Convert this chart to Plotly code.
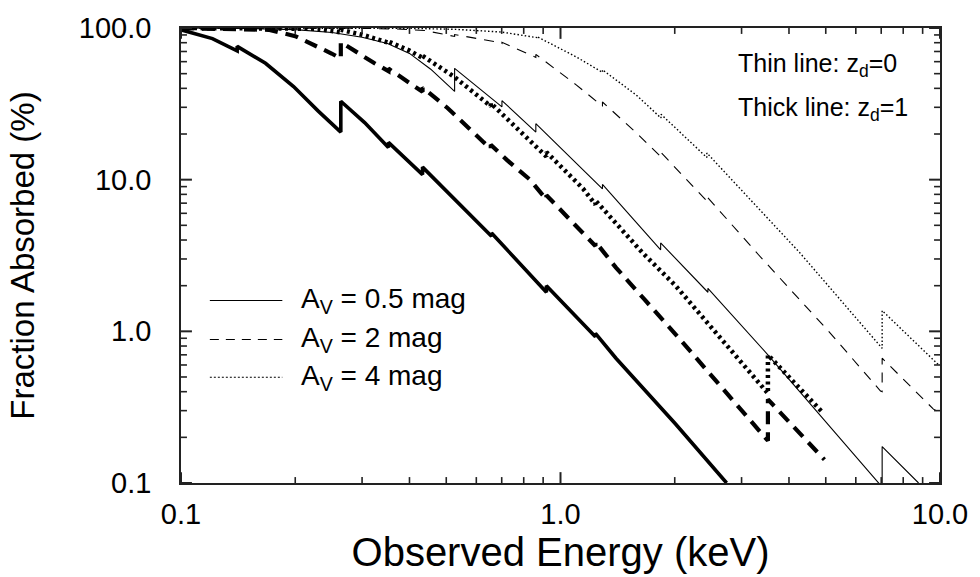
import plotly.graph_objects as go

# ---------------- data ----------------
# Observed energy (keV) / fraction absorbed (%)
# z_d = 0 (thin lines)
x_z0_av05 = [0.1, 0.15, 0.2, 0.25, 0.3, 0.35, 0.40, 0.455, 0.526, 0.526, 0.701, 0.701,
             0.861, 0.861, 1.29, 1.29, 1.836, 1.836, 2.446, 2.446, 3.52, 6.9, 7.04, 7.04, 8.78]
y_z0_av05 = [99.9, 99.3, 97.5, 93.5, 87, 79, 68, 53.5, 38.2, 54.2, 30.2, 33.2,
             20.6, 23.4, 8.7, 9.3, 3.45, 3.83, 1.81, 1.92, 0.70, 0.1, 0.094, 0.174, 0.1]

x_z0_av2 = [0.1, 0.2, 0.3, 0.38, 0.438, 0.526, 0.526, 0.68, 0.701, 0.701, 0.861, 0.861,
            1.10, 1.29, 1.29, 1.58, 1.836, 1.836, 2.446, 2.446, 3.32, 5.09, 6.97, 7.04, 7.04,
            9.61, 10.0]
y_z0_av2 = [100, 99.9, 99.5, 98.3, 96.3, 88, 90.5, 80.8, 79, 80.5, 64, 67,
            42.2, 30.5, 32.5, 20.5, 14.2, 15.2, 7.1, 7.6, 3.21, 1.0, 0.404, 0.40, 0.665,
            0.307, 0.29]

x_z0_av4 = [0.1, 0.3, 0.4, 0.53, 0.7, 0.865, 0.865, 1.10, 1.29, 1.29, 1.58, 1.84, 1.84,
            2.43, 2.43, 4.27, 7.04, 7.04, 9.9]
y_z0_av4 = [100, 100, 99.5, 98, 94, 86.5, 88, 64.5, 51, 53, 36.3, 25.5, 27,
            14.0, 15.0, 3.30, 0.773, 1.37, 0.603]

# z_d = 1 (thick lines)
x_z1_av05 = [0.1, 0.121, 0.1406, 0.1406, 0.167, 0.198, 0.230, 0.2637, 0.2637, 0.3047,
             0.352, 0.352, 0.433, 0.433, 0.658, 0.658, 0.918, 0.918, 1.236, 1.236, 1.40,
             2.01, 2.74]
y_z1_av05 = [97.3, 85.1, 70.6, 75.7, 58.5, 41.1, 28.3, 20.6, 32.9, 23.8,
             16.3, 17.6, 10.8, 12.1, 4.23, 4.45, 1.81, 2.0, 0.92, 0.97, 0.665,
             0.245, 0.1]

x_z1_av2 = [0.1, 0.14, 0.17, 0.2, 0.221, 0.2493, 0.2637, 0.2637, 0.3236, 0.352, 0.352,
            0.433, 0.433, 0.503, 0.628, 0.655, 0.655, 0.722, 0.831, 0.918, 0.918, 1.236,
            1.236, 1.40, 1.66, 2.09, 3.52, 3.52, 4.96]
y_z1_av2 = [99.8, 99.2, 97.3, 88.4, 78.9, 67.9, 63.0, 80.8, 58.5, 52, 54,
            38, 40.5, 29.8, 17.6, 16.0, 17.0, 13.5, 10.0, 7.4, 7.9, 3.65,
            3.9, 2.63, 1.636, 0.855, 0.19, 0.356, 0.1426]

x_z1_av4 = [0.1, 0.2, 0.23, 0.2637, 0.2637, 0.3047, 0.352, 0.352, 0.40, 0.433, 0.433,
            0.524, 0.655, 0.655, 0.918, 0.918, 1.146, 1.236, 1.236, 1.644, 2.01, 3.52,
            3.52, 4.91]
y_z1_av4 = [100, 99.8, 98.8, 93.5, 97.3, 89.4, 80, 81.5, 71, 63.5, 65.5,
            47.8, 30.5, 32, 14.2, 15.2, 8.74, 6.85, 7.3, 3.30, 2.0, 0.39,
            0.70, 0.291]

# axis ticks: labelled decades and unlabelled intermediate positions
x_decades = [0.1, 1, 10]
x_decade_labels = ["0.1", "1.0", "10.0"]
y_decades = [0.1, 1, 10, 100]
y_decade_labels = ["0.1", "1.0", "10.0", "100.0"]
x_minor = [m * d for d in (0.1, 1) for m in range(2, 10)]
y_minor = [m * d for d in (0.1, 1, 10) for m in range(2, 10)]

legend_labels = ["A<sub>V</sub> = 0.5 mag", "A<sub>V</sub> = 2 mag", "A<sub>V</sub> = 4 mag"]
note_lines = ["Thin line: z<sub>d</sub>=0", "Thick line: z<sub>d</sub>=1"]

FONT = "Liberation Sans, Arial, Helvetica, sans-serif"
INK = "#000000"
W, H = 980, 577
ML, MR, MT, MB = 181, 35, 22, 94
PW, PH = W - ML - MR, H - MT - MB

fig = go.Figure()

def add(x, y, width, dash):
    fig.add_trace(go.Scatter(x=x, y=y, mode="lines", showlegend=False,
                             line=dict(color=INK, width=width, dash=dash),
                             hoverinfo="skip"))

# thin lines (z_d = 0)
add(x_z0_av05, y_z0_av05, 1.1, "solid")
add(x_z0_av2, y_z0_av2, 1.1, "10px,8px")
add(x_z0_av4, y_z0_av4, 1.4, "1.5px,2.2px")
# thick lines (z_d = 1)
add(x_z1_av05, y_z1_av05, 3.6, "solid")
add(x_z1_av2, y_z1_av2, 4.2, "13px,8px")
add(x_z1_av4, y_z1_av4, 4.5, "3px,3.5px")

shapes = []
annotations = []

# tick marks on all four sides (inward), long at decades, short in between
TICK = "#222222"
for v in x_decades + x_minor:
    L = (11 if v in x_decades else 6) / PH
    w = 2 if v in x_decades else 1.6
    shapes.append(dict(type="line", xref="x", yref="paper", x0=v, x1=v, y0=0, y1=L,
                       line=dict(color=TICK, width=w)))
    shapes.append(dict(type="line", xref="x", yref="paper", x0=v, x1=v, y0=1, y1=1 - L,
                       line=dict(color=TICK, width=w)))
for v in y_decades + y_minor:
    L = (11 if v in y_decades else 6) / PW
    w = 2 if v in y_decades else 1.6
    shapes.append(dict(type="line", xref="paper", yref="y", x0=0, x1=L, y0=v, y1=v,
                       line=dict(color=TICK, width=w)))
    shapes.append(dict(type="line", xref="paper", yref="y", x0=1, x1=1 - L, y0=v, y1=v,
                       line=dict(color=TICK, width=w)))

# legend (samples + labels)
leg_y = [0.401, 0.3155, 0.2324]
leg_dash = ["solid", "9px,7px", "2px,2px"]
for yy, dd, lab in zip(leg_y, leg_dash, legend_labels):
    shapes.append(dict(type="line", xref="paper", yref="paper", x0=0.038, x1=0.1335,
                       y0=yy, y1=yy, line=dict(color=INK, width=1.1, dash=dd)))
    annotations.append(dict(xref="paper", yref="paper", x=0.155, y=yy, text=lab,
                            showarrow=False, xanchor="left", yanchor="middle",
                            font=dict(family=FONT, size=28, color=INK)))
for yy, txt in zip([0.918, 0.823], note_lines):
    annotations.append(dict(xref="paper", yref="paper", x=0.7317, y=yy, text=txt,
                            showarrow=False, xanchor="left", yanchor="middle",
                            font=dict(family=FONT, size=25, color=INK)))

base = dict(type="log", showgrid=False, zeroline=False, ticks="", tickmode="array",
            showline=True, linecolor=TICK, linewidth=1.6, mirror=True,
            tickfont=dict(family=FONT, size=29, color=INK))

fig.update_layout(
    width=W, height=H,
    margin=dict(l=ML, r=MR, t=MT, b=MB, pad=0),
    paper_bgcolor="white", plot_bgcolor="white",
    font=dict(family=FONT, color=INK),
    shapes=shapes, annotations=annotations,
    xaxis=dict(base, range=[-1, 1], tickvals=x_decades, ticktext=x_decade_labels,
               ticklabelstandoff=4,
               title=dict(text="Observed Energy (keV)", standoff=4,
                          font=dict(family=FONT, size=40, color=INK))),
    yaxis=dict(base, range=[-1, 2], tickvals=y_decades, ticktext=y_decade_labels,
               ticklabelstandoff=22,
               title=dict(text="Fraction Absorbed (%)", standoff=34,
                          font=dict(family=FONT, size=33, color=INK))),
)

fig.write_html("out.html")
